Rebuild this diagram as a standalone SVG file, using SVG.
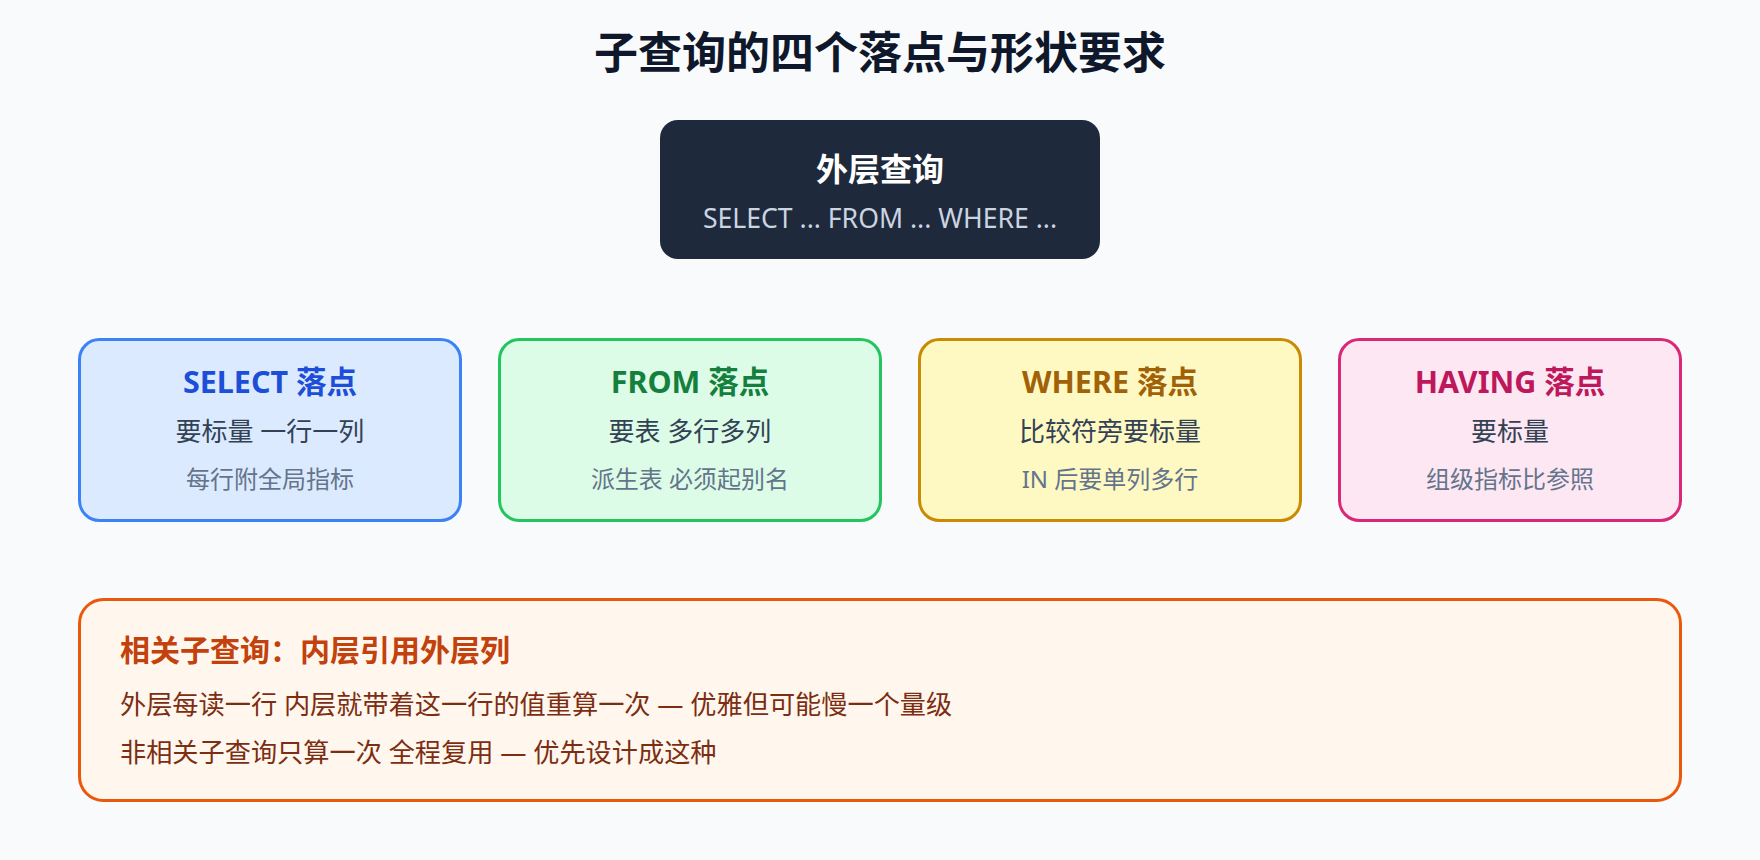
<svg xmlns="http://www.w3.org/2000/svg" width="1760" height="860" viewBox="0 0 1760 860">
  <style>
    text { font-family: "Noto Sans", "Noto Sans CJK SC", sans-serif; text-anchor: middle; }
    .title { font-size: 44px; font-weight: 700; fill: #0f172a; }
    .ctitle { font-size: 30.5px; font-weight: 700; }
    .l2 { font-size: 26px; fill: #334155; }
    .l3 { font-size: 24px; fill: #64748b; }
    .card { stroke-width: 3; }
    .btitle { font-size: 30px; font-weight: 700; fill: #c2410c; text-anchor: start; }
    .btext { font-size: 26.2px; fill: #7c2d12; text-anchor: start; }
  </style>
  <rect x="0" y="0" width="1760" height="860" fill="#f8fafc"/>
  <text class="title" x="880" y="69">子查询的四个落点与形状要求</text>

  <g id="outer">
    <rect x="660" y="120" width="440" height="139" rx="18" fill="#1e293b"/>
    <text x="880" y="181" font-size="32" font-weight="700" fill="#ffffff">外层查询</text>
    <text x="880" y="228" font-size="26.6" fill="#cbd5e1">SELECT ... FROM ... WHERE ...</text>
  </g>

  <g id="select">
    <rect class="card" x="79.5" y="339.5" width="381" height="181" rx="20" fill="#dbeafe" stroke="#3b82f6"/>
    <text class="ctitle" x="270" y="393" fill="#1d4ed8">SELECT 落点</text>
    <text class="l2" x="270" y="441">要标量 一行一列</text>
    <text class="l3" x="270" y="488">每行附全局指标</text>
  </g>

  <g id="from">
    <rect class="card" x="499.5" y="339.5" width="381" height="181" rx="20" fill="#dcfce7" stroke="#22c55e"/>
    <text class="ctitle" x="690" y="393" fill="#15803d">FROM 落点</text>
    <text class="l2" x="690" y="441">要表 多行多列</text>
    <text class="l3" x="690" y="488">派生表 必须起别名</text>
  </g>

  <g id="where">
    <rect class="card" x="919.5" y="339.5" width="381" height="181" rx="20" fill="#fef9c3" stroke="#ca8a04"/>
    <text class="ctitle" x="1110" y="393" fill="#a16207">WHERE 落点</text>
    <text class="l2" x="1110" y="441">比较符旁要标量</text>
    <text class="l3" x="1110" y="488">IN 后要单列多行</text>
  </g>

  <g id="having">
    <rect class="card" x="1339.5" y="339.5" width="341" height="181" rx="20" fill="#fce7f3" stroke="#db2777"/>
    <text class="ctitle" x="1510" y="393" fill="#be185d">HAVING 落点</text>
    <text class="l2" x="1510" y="441">要标量</text>
    <text class="l3" x="1510" y="488">组级指标比参照</text>
  </g>

  <g id="correlated">
    <rect x="79.5" y="599.5" width="1601" height="201" rx="24" fill="#fff7ed" stroke="#ea580c" stroke-width="3"/>
    <text class="btitle" x="120" y="661">相关子查询：内层引用外层列</text>
    <text class="btext" x="120" y="714">外层每读一行 内层就带着这一行的值重算一次 — 优雅但可能慢一个量级</text>
    <text class="btext" x="120" y="762">非相关子查询只算一次 全程复用 — 优先设计成这种</text>
  </g>

  <g id="connectors"/>
</svg>
